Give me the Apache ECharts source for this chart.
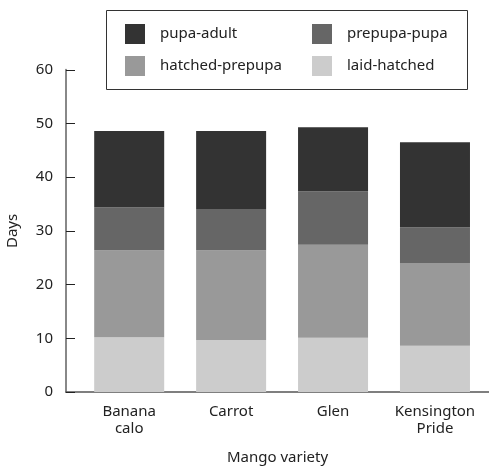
<!DOCTYPE html>
<html>
<head>
<meta charset="utf-8">
<script src="https://cdn.jsdelivr.net/npm/echarts@6/dist/echarts.min.js"></script>
<style>
html,body{margin:0;padding:0;background:#fff;}
#main{width:489px;height:467px;}
</style>
</head>
<body>
<div id="main"></div>
<script>
var categories = ["Banana\ncalo", "Carrot", "Glen", "Kensington\nPride"];
var laidHatched = [10.2, 9.7, 10.1, 8.6];
var hatchedPrepupa = [16.2, 16.7, 17.3, 15.4];
var prepupaPupa = [8.0, 7.7, 10.0, 6.7];
var pupaAdult = [14.2, 14.5, 11.9, 15.8];
var yTicks = [0, 10, 20, 30, 40, 50, 60];

var FONT = "Noto Sans";
var FS = 15;
// data as [value, position] so the value (y) dimension is the stacked one
function pts(arr){ return arr.map(function(v,i){ return [v, i+1]; }); }
function mk(name, arr, color){
  return {name:name, type:'bar', stack:'total', barWidth:70, data:pts(arr),
    encode:{x:1, y:0},
    itemStyle:{color:color}, emphasis:{disabled:true}};
}
var chart = echarts.init(document.getElementById('main'), null, {renderer:'canvas'});
chart.setOption({
  animation:false,
  backgroundColor:'#fff',
  textStyle:{fontFamily:FONT},
  grid:{left:66, right:0, top:69.8, bottom:75, containLabel:false, outerBoundsMode:'none'},
  legend:[
    {data:['pupa-adult','hatched-prepupa'], orient:'vertical', left:125, top:24, padding:0,
     itemWidth:20, itemHeight:20, itemGap:12, icon:'rect', selectedMode:false,
     textStyle:{fontFamily:FONT, fontSize:FS, color:'#222', padding:[0,0,0,10]}},
    {data:['prepupa-pupa','laid-hatched'], orient:'vertical', left:312, top:24, padding:0,
     itemWidth:20, itemHeight:20, itemGap:12, icon:'rect', selectedMode:false,
     textStyle:{fontFamily:FONT, fontSize:FS, color:'#222', padding:[0,0,0,10]}}
  ],
  graphic:[{type:'rect', shape:{x:106.5, y:10.5, width:361, height:79},
    style:{fill:'none', stroke:'#333', lineWidth:1}, z:-1}],
  xAxis:{type:'value', min:0.38, max:4.53,
    name:'Mango variety', nameLocation:'middle', nameGap:58,
    nameTextStyle:{fontFamily:FONT, fontSize:FS, color:'#222'},
    axisLine:{show:true, lineStyle:{color:'#555', width:1.5}},
    axisTick:{show:false}, splitLine:{show:false},
    axisLabel:{customValues:[1,2,3,4], formatter:function(v){return categories[Math.round(v)-1];},
      fontFamily:FONT, fontSize:FS, color:'#222', lineHeight:17, margin:11}
  },
  yAxis:{type:'value', min:yTicks[0], max:yTicks[yTicks.length-1], interval:10,
    name:'Days', nameLocation:'middle', nameGap:46,
    nameTextStyle:{fontFamily:FONT, fontSize:FS, color:'#222'},
    axisLine:{show:true, lineStyle:{color:'#888', width:2}},
    axisTick:{show:true, inside:true, length:9, lineStyle:{color:'#222', width:1}},
    splitLine:{show:false},
    axisLabel:{fontFamily:FONT, fontSize:FS, color:'#222', margin:13}
  },
  series:[
    mk('laid-hatched', laidHatched, '#cccccc'),
    mk('hatched-prepupa', hatchedPrepupa, '#999999'),
    mk('prepupa-pupa', prepupaPupa, '#666666'),
    mk('pupa-adult', pupaAdult, '#333333')
  ]
});
</script>
</body>
</html>
